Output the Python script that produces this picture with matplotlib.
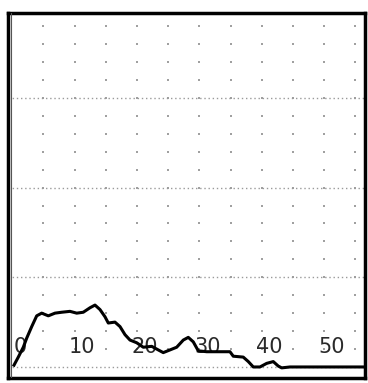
import matplotlib
matplotlib.use("Agg")
import matplotlib.pyplot as plt
import numpy as np

# Trace data (x in scale units, y in divisions)
trace_x = [-0.96, -0.27, 0.53, 1.07, 1.88, 2.68, 3.48, 4.54, 5.61, 6.68, 8.01, 9.09,
           10.14, 11.22, 12.02, 12.82, 13.62, 14.15, 15.22, 16.03, 16.83, 17.63, 18.70,
           19.76, 21.11, 22.16, 22.96, 24.04, 25.11, 26.17, 26.97, 27.77, 28.57, 29.92,
           31.52, 33.65, 34.18, 35.78, 36.59, 37.39, 38.46, 39.53, 40.59, 41.39, 41.94,
           43.27, 55.3]
trace_y = [0.02, 0.11, 0.22, 0.32, 0.45, 0.57, 0.60, 0.57, 0.60, 0.61, 0.62, 0.60,
           0.61, 0.66, 0.69, 0.64, 0.56, 0.49, 0.50, 0.45, 0.36, 0.30, 0.27,
           0.22, 0.23, 0.19, 0.16, 0.19, 0.22, 0.30, 0.33, 0.28, 0.18, 0.17,
           0.17, 0.17, 0.12, 0.11, 0.06, 0.0, 0.0, 0.04, 0.06, 0.01, -0.01,
           0.0, 0.0]

tick_values = [0, 10, 20, 30, 40, 50]
tick_labels = ["0", "10", "20", "30", "40", "50"]
major_rows = [0, 1, 2, 3]

W, H = 368, 383
fig = plt.figure(figsize=(W / 100, H / 100), dpi=100)
ax = fig.add_axes([8 / W, (H - 378) / H, (365 - 8) / W, (378 - 13) / H])
ax.set_xlim(-1.92, 55.29)
ax.set_ylim(-0.123, 3.946)
ax.set_xticks([])
ax.set_yticks([])
for s in ax.spines.values():
    s.set_linewidth(2.5)
    s.set_color("black")
# inner thin line along left edge (double-frame look)
ax.axvline(-1.45, color="#555555", lw=0.8, zorder=4)

# dotted grid
cols = np.arange(3.75, 55, 5)
rows = np.arange(0.2, 3.95, 0.2)
gx, gy = np.meshgrid(cols, rows)
ax.scatter(gx.ravel(), gy.ravel(), s=3, color="#a0a0a0", marker="s", linewidths=0, zorder=1)
for r in major_rows:
    ax.axhline(r, color="#9a9a9a", lw=1, linestyle=(0, (1, 2)), zorder=1)

# trace
ax.plot(trace_x, trace_y, color="black", lw=2.2, zorder=3)

# labels
for v, lab in zip(tick_values, tick_labels):
    ax.text(v, 0.22, lab, ha="center", va="center", fontsize=15,
            family=["Liberation Sans Narrow", "DejaVu Sans"], color="#2a2a2a", zorder=2)

fig.savefig("out.png", dpi=100)
